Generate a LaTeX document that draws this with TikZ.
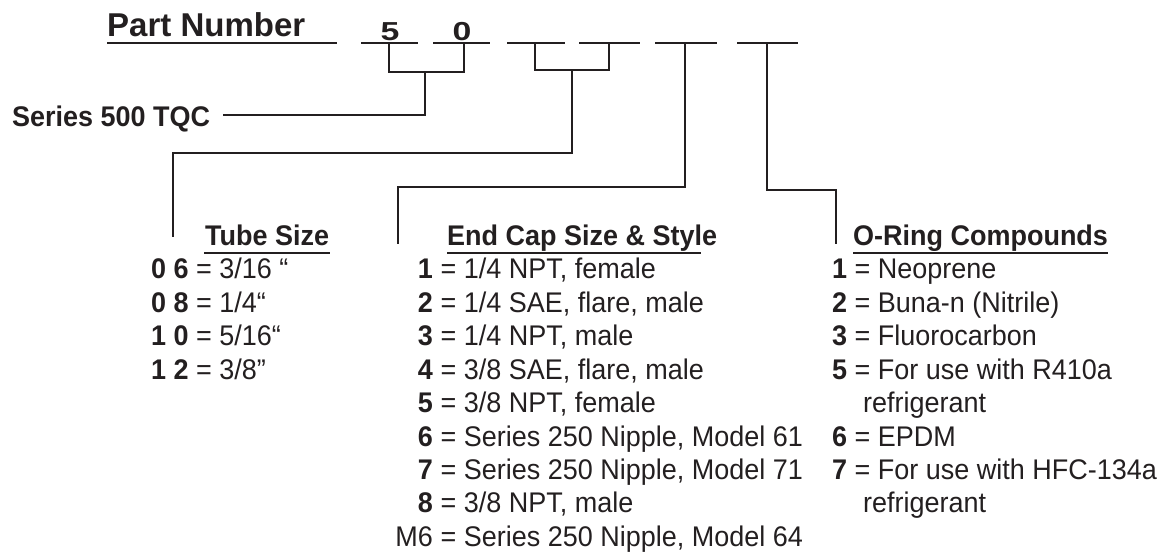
\documentclass[tikz,border=0pt]{standalone}
\usepackage{fontspec}
\usepackage{graphicx}
\setmainfont{Liberation Sans}[FakeStretch=0.95]
\newfontfamily\headfont{Liberation Sans}
\usetikzlibrary{calc}
\definecolor{ink}{HTML}{231F20}
\begin{document}
\begin{tikzpicture}[x=1pt,y=-1pt,
  txt/.style={inner sep=0pt, anchor=base west, text=ink, font=\fontsize{28.4}{33}\selectfont},
  ttl/.style={txt, font=\fontsize{28.4}{33}\selectfont\bfseries},
  num/.style={inner sep=0pt, anchor=base east, text=ink, font=\fontsize{28.4}{33}\selectfont\bfseries},
  numr/.style={num, font=\fontsize{28.4}{33}\selectfont},
  digit/.style={inner sep=0pt, anchor=base, text=ink, font=\headfont\fontsize{26}{30}\selectfont\bfseries},
  ln/.style={draw=ink, line width=2pt},
]
\useasboundingbox (0,0) rectangle (1169,553);

% Part number heading
\node[inner sep=0pt, anchor=base west, text=ink, font=\headfont\fontsize{33}{38}\selectfont\bfseries] (pn) at (107,37) {Part Number};
\coordinate (pnl) at (107,43);
\coordinate (pnr) at (337,43);
\draw[ln] (pnl) -- (pnr);

% dashes
\foreach \a/\b [count=\i] in {361/418, 433/490, 507/565, 579/640, 655/717, 737/798} {
  \coordinate (d\i l) at (\a,43);
  \coordinate (d\i r) at (\b,43);
  \draw[ln] (d\i l) -- (d\i r);
}
\node[digit] (n5) at (390,41) {\scalebox{1.3}[1]{5}};
\node[digit] (n0) at (462,41) {\scalebox{1.3}[1]{0}};

% Series label
\node[ttl] (ser) at (12,127) {Series 500 TQC};

% connector coordinates
\coordinate (b1l) at (389,43);
\coordinate (b1m) at (425,72);
\coordinate (b1r) at (464,43);
\coordinate (serend) at (223,115);
\coordinate (b2l) at (535,43);
\coordinate (b2m) at (572,70);
\coordinate (b2r) at (609,43);
\coordinate (tubecorner) at (173,153);
\coordinate (tubeend) at (173,237);
\coordinate (d5s) at (685,43);
\coordinate (capcorner) at (398,187);
\coordinate (capend) at (398,244);
\coordinate (d6s) at (767,43);
\coordinate (ringcorner) at (836,190);
\coordinate (ringend) at (836,244);

\draw[ln] (b1l) |- (b1m) -| (b1r);
\draw[ln] (b1m) |- (serend);
\draw[ln] (b2l) |- (b2m) -| (b2r);
\draw[ln] (b2m) |- (tubecorner) -- (tubeend);
\draw[ln] (d5s) |- (capcorner) -- (capend);
\draw[ln] (d6s) |- (ringcorner) -- (ringend);

% Titles
\node[ttl] (tt) at (205,246) {Tube Size};
\node[ttl] (et) at (447,246) {End Cap Size \& Style};
\node[ttl] (ot) at (853,246) {O-Ring Compounds};
\draw[ln] ($(tt.base west)+(-1,7)$) -- ($(tt.base east)+(1,7)$);
\draw[ln] ($(et.base west)+(0,7)$) -- ($(et.base east)+(-16,7)$);
\draw[ln] ($(ot.base west)+(0,7)$) -- ($(ot.base east)+(0,7)$);

% Tube sizes
\node[txt] (t1) at (151,279) {\textbf{0 6} = 3/16 “};
\node[txt] (t2) at (151,312.4) {\textbf{0 8} = 1/4“};
\node[txt] (t3) at (151,345.8) {\textbf{1 0} = 5/16“};
\node[txt] (t4) at (151,379.2) {\textbf{1 2} = 3/8”};

% End cap sizes
\node[num] (e1n) at (433,279.0) {1};
\node[txt] (e1) at (433,279.0) {\ = 1/4 NPT, female};
\node[num] (e2n) at (433,312.4) {2};
\node[txt] (e2) at (433,312.4) {\ = 1/4 SAE, flare, male};
\node[num] (e3n) at (433,345.8) {3};
\node[txt] (e3) at (433,345.8) {\ = 1/4 NPT, male};
\node[num] (e4n) at (433,379.2) {4};
\node[txt] (e4) at (433,379.2) {\ = 3/8 SAE, flare, male};
\node[num] (e5n) at (433,412.6) {5};
\node[txt] (e5) at (433,412.6) {\ = 3/8 NPT, female};
\node[num] (e6n) at (433,446.0) {6};
\node[txt] (e6) at (433,446.0) {\ = Series 250 Nipple, Model 61};
\node[num] (e7n) at (433,479.4) {7};
\node[txt] (e7) at (433,479.4) {\ = Series 250 Nipple, Model 71};
\node[num] (e8n) at (433,512.8) {8};
\node[txt] (e8) at (433,512.8) {\ = 3/8 NPT, male};
\node[numr] (e9n) at (433,546.2) {M6};
\node[txt] (e9) at (433,546.2) {\ = Series 250 Nipple, Model 64};

% O-ring compounds
\node[txt] (o1) at (832,279.0) {\textbf{1} = Neoprene};
\node[txt] (o2) at (832,312.4) {\textbf{2} = Buna-n (Nitrile)};
\node[txt] (o3) at (832,345.8) {\textbf{3} = Fluorocarbon};
\node[txt] (o5) at (832,379.2) {\textbf{5} = For use with R410a};
\node[txt] (o5b) at (863,412.6) {refrigerant};
\node[txt] (o6) at (832,446.0) {\textbf{6} = EPDM};
\node[txt] (o7) at (832,479.4) {\textbf{7} = For use with HFC-134a};
\node[txt] (o7b) at (863,512.8) {refrigerant};
\end{tikzpicture}
\end{document}
